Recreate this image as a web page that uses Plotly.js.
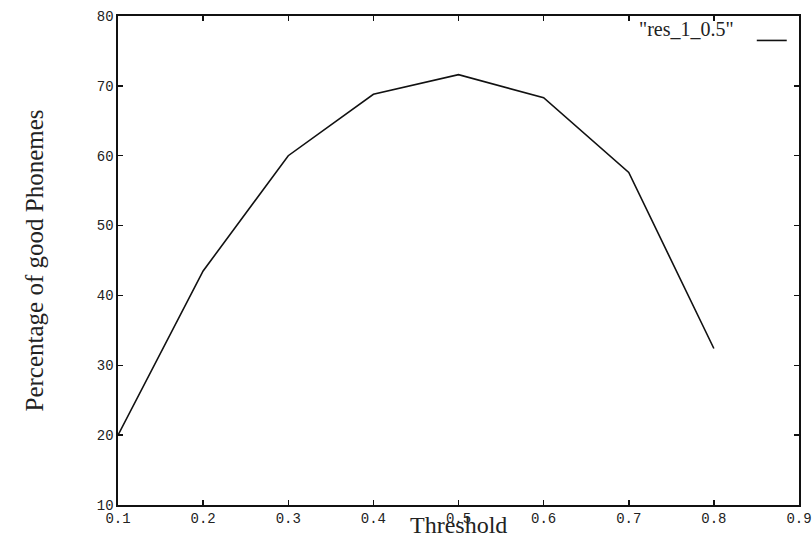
<!DOCTYPE html>
<html>
<head>
<meta charset="utf-8">
<script src="https://cdn.plot.ly/plotly-3.0.1.min.js"></script>
<style>html,body{margin:0;padding:0;background:#fff;}#chart{width:812px;height:540px;}</style>
</head>
<body>
<div id="chart"></div>
<script>
const thresholds = [0.1, 0.2, 0.3, 0.4, 0.5, 0.6, 0.7, 0.8];
const goodPhonemes = [20, 43.5, 60, 68.8, 71.6, 68.3, 57.6, 32.4];
const seriesName = '"res_1_0.5"';
const xTickVals = [0.1, 0.2, 0.3, 0.4, 0.5, 0.6, 0.7, 0.8, 0.9];
const yTickVals = [10, 20, 30, 40, 50, 60, 70, 80];

const tickFont = {family: '"Liberation Mono", "DejaVu Sans Mono", monospace', size: 14, color: '#222'};
const serif = '"Liberation Serif", "DejaVu Serif", serif';

const trace = {
  x: thresholds, y: goodPhonemes, type: 'scatter', mode: 'lines',
  name: seriesName, line: {color: '#111', width: 1.6}, showlegend: false
};

const layout = {
  width: 812, height: 540,
  margin: {l: 118, r: 13, t: 16, b: 35},
  paper_bgcolor: '#fff', plot_bgcolor: '#fff',
  xaxis: {
    range: [0.1, 0.9], tickvals: xTickVals, ticktext: xTickVals.map(v => v.toFixed(1)),
    showgrid: false, zeroline: false, showline: true, linecolor: '#111', linewidth: 1.6,
    mirror: 'ticks', ticks: 'inside', ticklen: 5, tickwidth: 1.5, tickcolor: '#111',
    tickfont: tickFont
  },
  yaxis: {
    range: [10, 80], tickvals: yTickVals,
    showgrid: false, zeroline: false, showline: true, linecolor: '#111', linewidth: 1.6,
    mirror: 'ticks', ticks: 'inside', ticklen: 5, tickwidth: 1.5, tickcolor: '#111',
    tickfont: tickFont
  },
  annotations: [
    {text: 'Threshold', xref: 'paper', yref: 'paper', x: 0.5, y: 0, yshift: -5,
     xanchor: 'center', yanchor: 'top', showarrow: false,
     font: {family: serif, size: 24, color: '#222'}},
    {text: 'Percentage of good Phonemes', xref: 'paper', yref: 'paper', x: 0, y: 0.5, xshift: -84,
     xanchor: 'center', yanchor: 'middle', textangle: -90, showarrow: false,
     font: {family: serif, size: 25, color: '#222'}},
    {text: seriesName, xref: 'paper', yref: 'paper', x: 0.907, y: 1.0,
     xanchor: 'right', yanchor: 'top', showarrow: false,
     font: {family: serif, size: 20, color: '#222'}}
  ],
  shapes: [
    {type: 'line', xref: 'paper', yref: 'paper', x0: 0.938, x1: 0.982, y0: 0.95, y1: 0.95,
     line: {color: '#111', width: 1.6}}
  ]
};

Plotly.newPlot('chart', [trace], layout, {displayModeBar: false, staticPlot: true});
</script>
</body>
</html>
